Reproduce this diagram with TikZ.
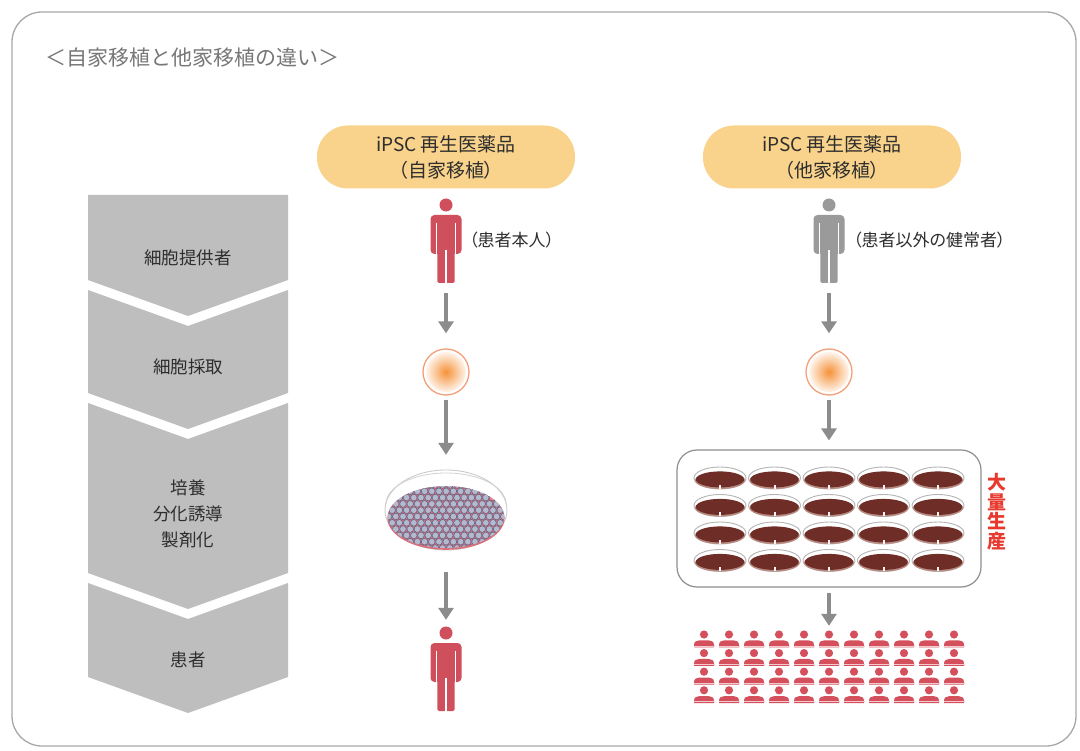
\documentclass[tikz,border=0pt]{standalone}
\usepackage{fontspec}
\newfontfamily\jp{Noto Sans CJK JP}[RawFeature={+palt}]
\newfontfamily\jpfull{Noto Sans CJK JP}
\usetikzlibrary{arrows.meta}

\definecolor{framegray}{HTML}{A8A8A8}
\definecolor{titlegray}{HTML}{777777}
\definecolor{chevgray}{HTML}{BEBEBE}
\definecolor{textdark}{HTML}{2E2E2E}
\definecolor{pillfill}{HTML}{F9D38B}
\definecolor{arrowgray}{HTML}{8C8C8C}
\definecolor{patientred}{HTML}{CF4F5C}
\definecolor{donorgray}{HTML}{9A9A9A}
\definecolor{massred}{HTML}{E8392F}
\definecolor{cellorange}{HTML}{F6923A}
\definecolor{cellrim}{HTML}{F3A07A}
\definecolor{dishbrown}{HTML}{6E2E27}
\definecolor{dishlip}{HTML}{B98A80}
\definecolor{rimgray}{HTML}{B4B4B4}
\definecolor{boxgray}{HTML}{8E8E8E}
\definecolor{ipscfill}{HTML}{B3B9CE}
\definecolor{ipscedge}{HTML}{5A6082}
\definecolor{crowdred}{HTML}{D4505D}
\definecolor{mediumpink}{HTML}{D9707A}

% standing pictogram: x, top y, colour
\newcommand\personfig[3]{%
  \begin{scope}[shift={(#1,#2)}]
    \fill[#3] (0,7) circle (6.5);
    \fill[#3, rounded corners=4pt] (-15.5,17) rectangle (15.5,56);
    \fill[#3, rounded corners=1.5pt] (-8.6,40) rectangle (8.6,85);
    \draw[white, line width=1.4pt] (-9.3,25) -- (-9.3,57) (9.3,25) -- (9.3,57) (0,52) -- (0,86);
  \end{scope}}

% small bust icon: x, head centre y
\newcommand\bustfig[2]{%
  \begin{scope}[shift={(#1,#2)}]
    \fill[crowdred] (0,0) circle (4.1);
    \fill[crowdred] (-10,12.8) -- (-10,10.5)
      .. controls (-10,7.2) and (-7.5,5.8) .. (-4.5,5.8) -- (4.5,5.8)
      .. controls (7.5,5.8) and (10,7.2) .. (10,10.5) -- (10,12.8) -- cycle;
    \draw[white!70!crowdred, line width=0.5pt] (-10.5,11.3) -- (10.5,11.3);
  \end{scope}}

% culture plate seen at an angle: x, y
\newcommand\platefig[2]{%
  \begin{scope}[shift={(#1,#2)}]
    \filldraw[fill=white, draw=rimgray, line width=0.9pt] (0,0) ellipse (26 and 11);
    \fill[dishlip] (0,2.4) ellipse (25 and 8.6);
    \fill[dishbrown] (0,1.4) ellipse (24.2 and 8);
    \fill[white!80!pink] (-1,6.6) rectangle (1,10.6);
  \end{scope}}

\tikzset{
  garrow/.style={draw=arrowgray, line width=3.2pt, -{Triangle[width=15pt,length=12pt]}},
  chev/.style={fill=chevgray, draw=none},
  steplabel/.style={font=\jp\fontsize{17.5}{26}\selectfont, text=textdark, align=center, inner sep=0pt},
  pillbox/.style={fill=pillfill, draw=none, rounded corners=31pt, minimum width=258pt,
    minimum height=63pt, align=center, inner sep=0pt, text=textdark,
    font=\jp\fontsize{19}{26}\selectfont},
  sidelabel/.style={font=\jp\fontsize{17}{20}\selectfont, text=textdark, inner sep=0pt, anchor=west},
  slot/.style={draw=none, inner sep=0pt},
  cellnode/.style={circle, draw=cellrim, line width=1.3pt, minimum size=46pt, inner sep=0pt, fill=white}
}

\begin{document}
\begin{tikzpicture}[x=1pt, y=-1pt]
  \useasboundingbox (0,0) rectangle (1080,751);
  \fill[white] (0,0) rectangle (1080,751);

  % outer frame and heading
  \draw[framegray, line width=1.3pt, rounded corners=30pt] (12,12) rectangle (1076,746);
  \node[anchor=west, inner sep=0pt, text=titlegray, font=\jpfull\fontsize{21}{24}\selectfont]
    (title) at (45,58) {＜自家移植と他家移植の違い＞};

  % process steps as chevrons
  \fill[chev] (88,195) -- (288,195) -- (288,280) -- (188,316) -- (88,280) -- cycle;
  \fill[chev] (88,290) -- (188,326) -- (288,290) -- (288,393) -- (188,429) -- (88,393) -- cycle;
  \fill[chev] (88,403) -- (188,439) -- (288,403) -- (288,573) -- (188,609) -- (88,573) -- cycle;
  \fill[chev] (88,583) -- (188,619) -- (288,583) -- (288,677) -- (188,713) -- (88,677) -- cycle;
  \node[steplabel] (donor) at (188,258) {細胞提供者};
  \node[steplabel] (harvest) at (188,367) {細胞採取};
  \node[steplabel] (culture) at (188,514) {培養\\分化誘導\\製剤化};
  \node[steplabel] (patient) at (188,660) {患者};

  % headers
  \node[pillbox] (pillA) at (446,157) {iPSC 再生医薬品\\（自家移植）};
  \node[pillbox] (pillB) at (832,157) {iPSC 再生医薬品\\（他家移植）};

  % ---- autologous column ----
  \node[slot, minimum width=32pt, minimum height=85pt] (personA) at (446,240.5) {};
  \personfig{446}{198}{patientred}
  \node[sidelabel] (selfA) at (469,240) {（患者本人）};

  \node[cellnode] (cellA) at (446,372) {};
  \shade[inner color=cellorange, outer color=cellorange!10] (cellA.center) circle (20);

  \node[slot, minimum width=124pt, minimum height=82pt] (dishA) at (446,510) {};
  \filldraw[fill=white, draw=rimgray!70, line width=0.9pt] (446,510) ellipse (61 and 40);
  \fill[mediumpink] (446,518) ellipse (58.6 and 31.8);
  \begin{scope}
    \clip (446,517) ellipse (58 and 31);
    \foreach \r in {0,...,11} {
      \foreach \c in {0,...,17} {
        \pgfmathsetmacro\cx{385 + 7.2*\c + 3.6*mod(\r,2)}
        \pgfmathsetmacro\cy{485 + 6.3*\r}
        \filldraw[fill=ipscfill, draw=ipscedge, line width=0.5pt] (\cx,\cy) circle (3.3);
      }
    }
    \filldraw[fill=pink!70!red, draw=ipscedge, line width=0.5pt] (492.4,497.6) circle (3.3);
  \end{scope}
  \draw[rimgray!60, line width=0.8pt] (386,504) arc[start angle=180, end angle=360, x radius=60, y radius=31];

  \node[slot, minimum width=32pt, minimum height=84pt] (patientA) at (446,668) {};
  \personfig{446}{626}{patientred}

  \draw[garrow] ([yshift=-10pt]personA.south) -- ([yshift=15pt]cellA.north);
  \draw[garrow] ([yshift=-4pt]cellA.south) -- ([yshift=14pt]dishA.north);
  \draw[garrow] ([yshift=-21pt]dishA.south) -- ([yshift=6pt]patientA.north);

  % ---- allogeneic column ----
  \node[slot, minimum width=32pt, minimum height=85pt] (personB) at (829,240.5) {};
  \personfig{829}{198}{donorgray}
  \node[sidelabel] (selfB) at (853,240) {（患者以外の健常者）};

  \node[cellnode] (cellB) at (829,372) {};
  \shade[inner color=cellorange, outer color=cellorange!10] (cellB.center) circle (20);

  \node[draw=boxgray, line width=1.2pt, rounded corners=20pt, minimum width=304pt,
    minimum height=137pt, inner sep=0pt] (plates) at (829,518.5) {};
  \foreach \i in {0,...,4} {
    \foreach \j in {0,...,3} {
      \platefig{720+54.5*\i}{478+27.5*\j}
    }
  }
  \node[inner sep=0pt, text=massred, align=center, font=\jp\bfseries\fontsize{19}{19.5}\selectfont]
    (mass) at (997,512) {大\\量\\生\\産};

  \node[slot, minimum width=272pt, minimum height=72pt] (crowd) at (829,666) {};
  \foreach \c in {0,...,10} {
    \foreach \r in {0,...,3} {
      \bustfig{704+25*\c}{634.5+18.6*\r}
    }
  }

  \draw[garrow] ([yshift=-10pt]personB.south) -- ([yshift=15pt]cellB.north);
  \draw[garrow] ([yshift=-4pt]cellB.south) -- ([yshift=9pt]plates.north);
  \draw[garrow] ([yshift=-5pt]plates.south) -- ([yshift=4pt]crowd.north);
\end{tikzpicture}
\end{document}
